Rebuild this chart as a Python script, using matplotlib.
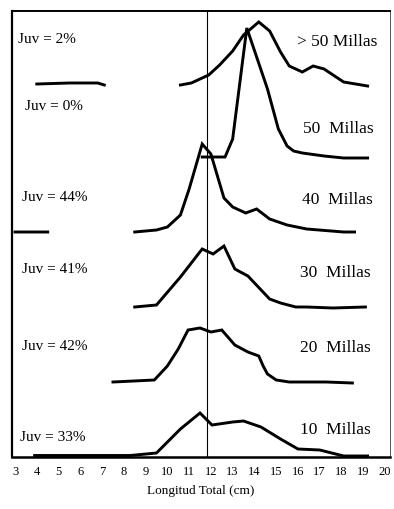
import numpy as np
import matplotlib
matplotlib.use("Agg")
import matplotlib.pyplot as plt

nan = float("nan")

# Distance categories and juvenile percentages
categories = ["> 50 Millas", "50  Millas", "40  Millas", "30  Millas", "20  Millas", "10  Millas"]
juv_labels = ["Juv = 2%", "Juv = 0%", "Juv = 44%", "Juv = 41%", "Juv = 42%", "Juv = 33%"]

# Length (cm) and stacked frequency curves (relative units, each already offset)
x_gt50 = [4.0, 5.5, 6.8, 7.1, nan, 10.6, 11.1, 11.9, 12.4, 13.0, 13.5, 14.2, 14.7, 15.2, 15.6, 16.2, 16.7, 17.2, 18.1, 19.2]
y_gt50 = [373, 374, 374, 372, nan, 372, 374, 382, 392, 406, 422, 435, 426, 405, 391, 385, 391, 388, 375, 371]

x_50 = [11.6, 12.65, 13.0, 13.65, 14.6, 15.1, 15.5, 15.8, 16.2, 17.2, 18.1, 19.2]
y_50 = [300, 300, 318, 429, 368, 328, 311, 306, 304, 301, 299, 299]

x_40 = [3.0, 4.5, nan, 8.5, 9.5, 10.0, 10.6, 11.0, 11.6, 12.0, 12.3, 12.6, 13.0, 13.6, 14.1, 14.7, 15.5, 16.4, 18.1, 18.6]
y_40 = [225, 225, nan, 225, 227, 230, 242, 268, 313, 303, 281, 259, 250, 244, 248, 238, 232, 228, 225, 225]

x_30 = [8.5, 9.5, 10.6, 11.6, 12.1, 12.6, 13.1, 13.7, 14.7, 15.2, 15.9, 16.4, 17.6, 19.1]
y_30 = [150, 152, 180, 208, 203, 211, 188, 181, 158, 154, 150, 150, 149, 150]

x_20 = [7.5, 9.4, 10.0, 10.5, 10.95, 11.5, 12.0, 12.5, 13.1, 13.7, 14.2, 14.4, 14.6, 15.0, 15.6, 17.3, 18.5]
y_20 = [75, 77, 91, 108, 127, 129, 125, 127, 112, 105, 101, 91, 83, 77, 75, 75, 74]

x_10 = [3.9, 5.4, 8.3, 9.5, 10.6, 11.5, 12.05, 13.0, 13.5, 14.3, 15.2, 16.0, 17.0, 18.1, 19.2]
y_10 = [1.5, 1.5, 1.5, 4, 28, 44, 32, 35, 36, 30, 18, 8, 7, 1, 1]

x_ticks = list(range(3, 21))
juv_limit = 11.8

series = [(x_gt50, y_gt50), (x_50, y_50), (x_40, y_40), (x_30, y_30), (x_20, y_20), (x_10, y_10)]

plt.rcParams["font.family"] = ["Liberation Serif", "DejaVu Serif"]

fig = plt.figure(figsize=(3.94, 5.10), dpi=100)
ax = fig.add_axes([12 / 394, 52 / 510, 378 / 394, 446 / 510])

for xs, ys in series:
    ax.plot(xs, ys, color="black", lw=2.1, solid_joinstyle="miter", clip_on=False)

ax.axvline(juv_limit, color="black", lw=0.8)

ax.set_xlim(2.86, 20.23)
ax.set_ylim(0, 446)
ax.set_xticks(x_ticks)
ax.set_xticklabels([str(t) for t in x_ticks], fontsize=9)
ax.tick_params(axis="x", length=0, pad=6)
ax.set_yticks([])
ax.set_xlabel("Longitud Total (cm)", fontsize=9.5, labelpad=5)

ax.spines["left"].set_linewidth(1.6)
ax.spines["bottom"].set_linewidth(1.8)
ax.spines["top"].set_linewidth(1.4)
ax.spines["right"].set_linewidth(0.7)
ax.spines["right"].set_color("#555555")

juv_pos = [(0.016, 0.939), (0.034, 0.787), (0.026, 0.583), (0.026, 0.422), (0.026, 0.249), (0.021, 0.045)]
cat_pos = [(0.754, 0.933), (0.770, 0.738), (0.767, 0.578), (0.762, 0.415), (0.762, 0.247), (0.762, 0.063)]

for lab, (fx, fy) in zip(juv_labels, juv_pos):
    ax.text(fx, fy, lab, transform=ax.transAxes, fontsize=11, ha="left", va="center")
for lab, (fx, fy) in zip(categories, cat_pos):
    ax.text(fx, fy, lab, transform=ax.transAxes, fontsize=12.5, ha="left", va="center")

fig.savefig("out.png", dpi=100)
